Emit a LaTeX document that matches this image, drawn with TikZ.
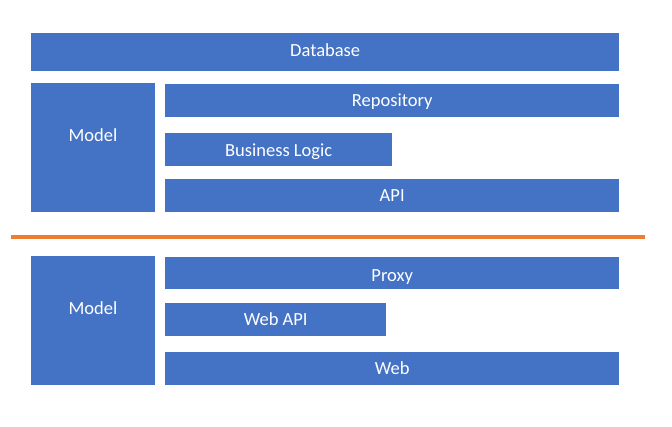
\documentclass[tikz,border=0pt]{standalone}
\usepackage{fontspec}
\setmainfont{Carlito}
\definecolor{boxblue}{HTML}{4472C4}
\definecolor{lineorange}{HTML}{ED7D31}
\tikzset{
  layer/.style={fill=boxblue, draw=none, inner sep=0pt, anchor=north west, text=white,
    font=\fontsize{18.5}{22}\selectfont, text height=12.7pt, text depth=0pt},
  layertext/.style={text=white, inner sep=0pt, font=\fontsize{18.5}{22}\selectfont,
    text height=11.7pt, text depth=0pt},
  divider/.style={draw=lineorange, line width=4pt}
}
\begin{document}
\begin{tikzpicture}[x=1pt,y=-1pt]
\useasboundingbox (0,0) rectangle (672,427);
% top section
\node[layer, minimum width=588pt, minimum height=38pt, text depth=4.4pt] (db) at (31,33) {Database};
\node[layer, minimum width=124pt, minimum height=129pt] (modelA) at (31,83) {};
\node[layertext] (modelAtext) at (93,136) {Model};
\node[layer, minimum width=454pt, minimum height=32.5pt] (repo) at (165,84) {Repository};
\node[layer, minimum width=227pt, minimum height=33pt] (bl) at (165,133) {Business Logic};
\node[layer, minimum width=454pt, minimum height=32.5pt] (api) at (165,179) {API};
% divider
\coordinate (divL) at (11,237);
\coordinate (divR) at (645,237);
\draw[divider] (divL) -- (divR);
% bottom section
\node[layer, minimum width=124pt, minimum height=129pt] (modelB) at (31,256) {};
\node[layertext] (modelBtext) at (93,309) {Model};
\node[layer, minimum width=454pt, minimum height=32pt, text height=15.1pt] (proxy) at (165,257.3) {Proxy};
\node[layer, minimum width=221pt, minimum height=33pt] (webapi) at (165,302.7) {Web API};
\node[layer, minimum width=454pt, minimum height=33.3pt] (web) at (165,351.7) {Web};
\end{tikzpicture}
\end{document}
